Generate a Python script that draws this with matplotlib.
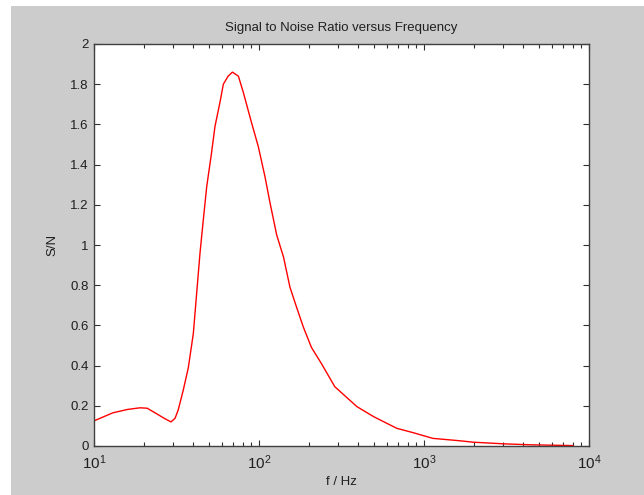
import matplotlib
matplotlib.use("Agg")
import matplotlib.pyplot as plt
from matplotlib.patches import Rectangle
from matplotlib.ticker import LogLocator, FixedLocator, NullFormatter

plt.rcParams['font.family'] = ['Liberation Sans', 'DejaVu Sans']
plt.rcParams['mathtext.fontset'] = 'custom'
plt.rcParams['mathtext.rm'] = 'Liberation Sans'
plt.rcParams['mathtext.it'] = 'Liberation Sans'
plt.rcParams['mathtext.default'] = 'regular'

freq = [10, 13, 16, 19, 21, 24, 27, 29.3, 31, 32.4, 34.8, 37.3, 40, 41.9, 43.9,
        45.9, 48.2, 51.6, 54.1, 58, 60.8, 65, 69, 75, 80.3, 90, 99, 108.7,
        116.6, 128, 140.8, 154, 169, 186, 208, 239, 288, 392, 495, 684, 862,
        1130, 1650, 1982, 3000, 4385, 8000]
snr = [0.125, 0.165, 0.182, 0.19, 0.188, 0.16, 0.135, 0.12, 0.138, 0.18, 0.28,
       0.39, 0.56, 0.76, 0.96, 1.12, 1.29, 1.46, 1.59, 1.71, 1.80, 1.84, 1.86,
       1.84, 1.76, 1.61, 1.49, 1.34, 1.21, 1.05, 0.94, 0.79, 0.69, 0.59, 0.49,
       0.41, 0.295, 0.196, 0.146, 0.088, 0.066, 0.038, 0.026, 0.019, 0.011,
       0.006, 0.002]

title = "Signal to Noise Ratio versus Frequency"
xlabel = "f / Hz"
ylabel = "S/N"
yticks = [0, 0.2, 0.4, 0.6, 0.8, 1, 1.2, 1.4, 1.6, 1.8, 2]
ytick_labels = ["0", "0.2", "0.4", "0.6", "0.8", "1", "1.2", "1.4", "1.6", "1.8", "2"]

W, H = 644, 495
fig = plt.figure(figsize=(W / 100, H / 100), dpi=100, facecolor='white')
fig.patches.append(Rectangle((11 / W, 0), 1, 1 - 6 / H, transform=fig.transFigure,
                             facecolor='#cccccc', edgecolor='none', zorder=-10))

ax = fig.add_axes([94 / W, 1 - 446 / H, (589 - 94) / W, (446 - 44) / H])
ax.set_facecolor('white')
ax.plot(freq, snr, color='#ff0000', lw=1.0)
ax.set_xscale('log')
ax.set_xlim(10, 1e4)
ax.set_ylim(0, 2)
ax.set_yticks(yticks)
ax.set_yticklabels(ytick_labels)
ax.xaxis.set_major_locator(FixedLocator([10, 100, 1000, 10000]))
ax.set_xticklabels([r'$10^{1}$', r'$10^{2}$', r'$10^{3}$', r'$10^{4}$'])
ax.xaxis.set_minor_locator(LogLocator(base=10, subs=range(2, 10)))
ax.xaxis.set_minor_formatter(NullFormatter())

for s in ax.spines.values():
    s.set_color('#404040')
    s.set_linewidth(1.0)
ax.tick_params(which='both', direction='in', top=True, right=True,
               color='#303030', labelsize=9.5, labelcolor='#202020', pad=4)
ax.tick_params(which='major', length=4, width=0.8)
ax.tick_params(which='minor', length=3, width=0.8)
ax.tick_params(axis='x', which='major', labelsize=11, pad=5)

ax.set_title(title, fontsize=9.5, color='#202020', pad=9)
ax.set_xlabel(xlabel, fontsize=9.5, color='#202020', labelpad=3)
ax.set_ylabel(ylabel, fontsize=9.5, color='#202020', labelpad=8)

fig.savefig('out.png', dpi=100, facecolor='white')
